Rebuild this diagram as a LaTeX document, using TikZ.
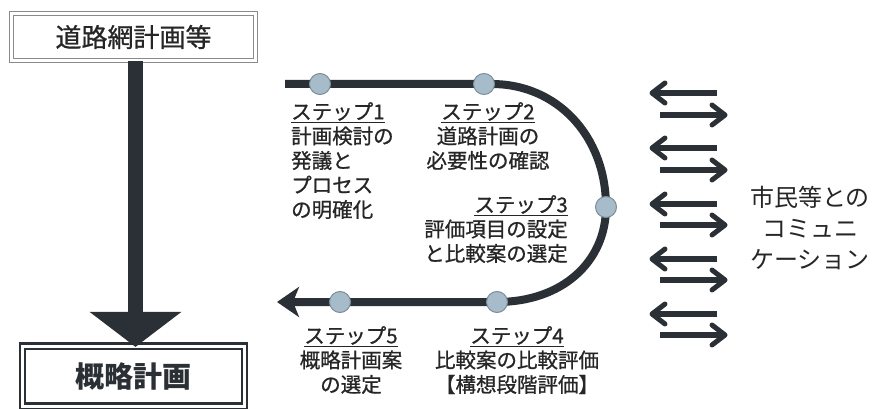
\documentclass[tikz,border=0pt]{standalone}
\usepackage{fontspec}
\setmainfont{Noto Sans CJK JP}
\newfontfamily\heavyjp{Noto Sans CJK JP}[FakeBold=0.8]
\usetikzlibrary{arrows.meta}
\definecolor{ink}{HTML}{2A3035}
\definecolor{txt}{HTML}{262626}
\definecolor{dotfill}{HTML}{A7BCCB}
\definecolor{dotline}{HTML}{7D8C96}
\definecolor{boxgray}{HTML}{8A8A8A}
\tikzset{
  stepline/.style={draw=ink, line width=8pt},
  dot/.style={circle, fill=dotfill, draw=dotline, line width=1pt, minimum size=21pt, inner sep=0pt},
  steptext/.style={font=\heavyjp\fontsize{20.5}{24.5}\selectfont, text=txt, inner sep=0pt},
  commtext/.style={font=\fontsize{24}{31}\selectfont, text=txt, inner sep=0pt, align=center},
  commarrow/.style={draw=ink, line width=5.5pt},
  chevron/.style={draw=ink, line width=5pt, line cap=round, line join=round},
  topbox/.style={draw=boxgray, double=white, double distance=2.2pt, line width=1.3pt, minimum width=244pt, minimum height=47pt, inner sep=0pt, font=\heavyjp\fontsize{26}{30}\selectfont, text=txt},
  botbox/.style={draw=ink, double=white, double distance=3pt, line width=2.2pt, minimum width=222pt, minimum height=60pt, inner sep=0pt, font=\fontsize{29}{32}\bfseries\selectfont, text=ink},
  bigarrow/.style={draw=ink, line width=15pt, -{Triangle[length=35pt,width=90pt]}}
}
\begin{document}
\begin{tikzpicture}[x=1pt,y=-1pt]
\useasboundingbox (0,0) rectangle (878,409);
\fill[white] (0,0) rectangle (878,409);
% boxes
\node[topbox] (top) at (133.5,37) {道路網計画等};
\node[botbox] (bot) at (133.5,376) {概略計画};
\draw[bigarrow] ([xshift=2pt]top.south) -- ([xshift=2pt,yshift=-2pt]bot.north);
% step path
\coordinate (p0) at (285,84);
\coordinate (c1) at (320,84);
\coordinate (c2) at (484,84);
\coordinate (c2b) at (492,84);
\coordinate (c3) at (606,207);
\coordinate (c4) at (497,302);
\coordinate (c5) at (340,302);
\coordinate (pend) at (277,302);
\draw[stepline, -{Stealth[length=22pt,width=30pt,inset=6pt]}] (p0) -- (c1) -- (c2) -- (c2b)
  .. controls (556,84) and (606,135) .. (c3)
  .. controls (606,262) and (562,302) .. (c4) -- (c5) -- (pend);
\node[dot] (s1) at (c1) {};
\node[dot] (s2) at (c2) {};
\node[dot] (s3) at (c3) {};
\node[dot] (s4) at (c4) {};
\node[dot] (s5) at (c5) {};
% step texts
\node[steptext, anchor=north west, align=left] (t1) at (291,102)
  {\underline{ステップ1}\\計画検討の\\発議と\\プロセス\\の明確化};
\node[steptext, anchor=north, align=center] (t2) at (488,102)
  {\underline{ステップ2}\\道路計画の\\必要性の確認};
\node[steptext, anchor=north east, align=right] (t3) at (568,195)
  {\underline{ステップ3}\\評価項目の設定\\と比較案の選定};
\node[steptext, anchor=north, align=center] (t4) at (517,326)
  {\underline{ステップ4}\\比較案の比較評価\\【構想段階評価】};
\node[steptext, anchor=north, align=center] (t5) at (351,326)
  {\underline{ステップ5}\\概略計画案\\の選定};
% communication arrows
\foreach \i/\yl/\yr in {1/93/115, 2/148/170, 3/204/225, 4/259/280, 5/314/335} {
  \coordinate (la\i) at (717,\yl);
  \coordinate (lb\i) at (652,\yl);
  \coordinate (ra\i) at (660,\yr);
  \coordinate (rb\i) at (725,\yr);
  \draw[commarrow] (la\i) -- ([xshift=2pt]lb\i);
  \draw[chevron] ([shift={(13,-10)}]lb\i) -- (lb\i) -- ([shift={(13,10)}]lb\i);
  \draw[commarrow] (ra\i) -- ([xshift=-2pt]rb\i);
  \draw[chevron] ([shift={(-13,-10)}]rb\i) -- (rb\i) -- ([shift={(-13,10)}]rb\i);
}
\node[commtext, anchor=north] (comm) at (810,186) {市民等との\\コミュニ\\ケーション};
\end{tikzpicture}
\end{document}
